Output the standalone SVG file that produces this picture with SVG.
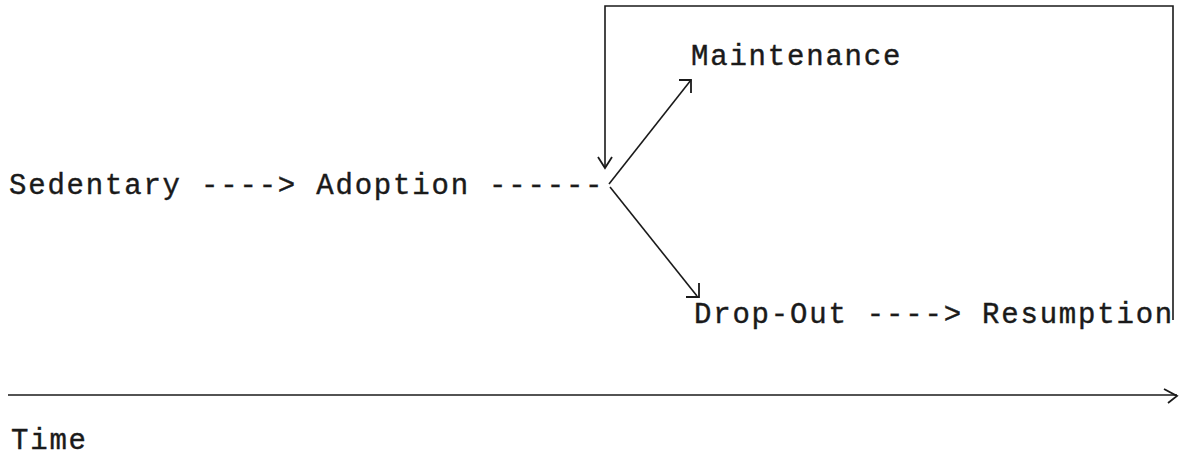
<svg xmlns="http://www.w3.org/2000/svg" width="1183" height="458" viewBox="0 0 1183 458">
<style>
text{font-family:"Liberation Mono","Courier New",monospace;font-size:29px;letter-spacing:1.8px;fill:#1a1a1a;stroke:#1a1a1a;stroke-width:0.4}
.ln{stroke:#1a1a1a;stroke-width:1.6;fill:none}
.hd{stroke:#1a1a1a;stroke-width:1.8;fill:none}
</style>
<rect width="1183" height="458" fill="#fff"/>
<g id="sedentary-adoption"><text x="9" y="194">Sedentary ----&gt; Adoption ------</text></g>
<g id="maintenance"><text x="691" y="65">Maintenance</text></g>
<g id="dropout-resumption"><text x="694" y="323">Drop-Out ----&gt; Resumption</text></g>
<g id="time"><text x="11" y="449">Time</text></g>
<g id="connectors">
<path class="ln" d="M605,168 V6 H1173 V320"/>
<path class="hd" d="M598,157 L605,168 L612,157"/>
<path class="ln" d="M609,184 L691,80"/>
<path class="hd" d="M679,80 H691 V93"/>
<path class="ln" d="M610,187 L697,296"/>
<path class="hd" d="M686,297 H699 V283"/>
<path class="ln" d="M8,395 H1177"/>
<path class="hd" d="M1164,389 L1177,396 L1168,403"/>
</g>
</svg>
